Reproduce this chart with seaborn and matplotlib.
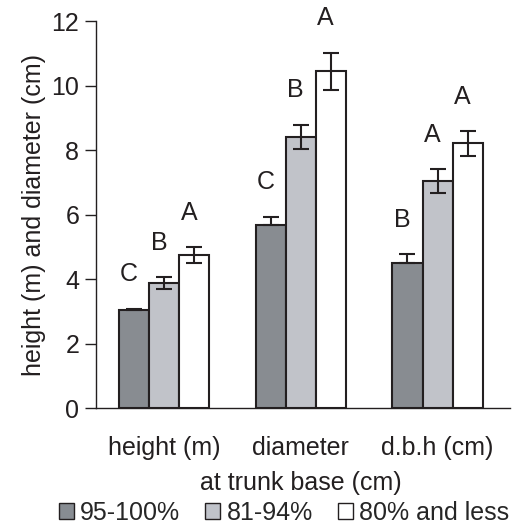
import pandas as pd
import matplotlib.pyplot as plt
import seaborn as sns
from matplotlib.patches import Patch

# Data
categories = ['height (m)', 'diameter\nat trunk base (cm)', 'd.b.h (cm)']
groups = ['95-100%', '81-94%', '80% and less']
means_95 = [3.04, 5.67, 4.51]
means_81 = [3.88, 8.41, 7.04]
means_80 = [4.74, 10.45, 8.21]
err_95 = [0.03, 0.26, 0.26]
err_81 = [0.18, 0.37, 0.37]
err_80 = [0.25, 0.57, 0.38]
letters_95 = ['C', 'C', 'B']
letters_81 = ['B', 'B', 'A']
letters_80 = ['A', 'A', 'A']

colors = ['#878c92', '#c0c3ca', '#ffffff']
edge = '#231f20'

df = pd.DataFrame({
    'category': categories * 3,
    'group': [g for g in groups for _ in categories],
    'value': means_95 + means_81 + means_80,
})
errs = [err_95, err_81, err_80]
letters = [letters_95, letters_81, letters_80]

sns.set_style('white')
plt.rcParams['font.family'] = ['Liberation Sans', 'DejaVu Sans']

fig = plt.figure(figsize=(5.12, 5.29), dpi=100)
ax = fig.add_axes([0.1875, 0.2287, 0.8085, 0.7313])

sns.barplot(data=df, x='category', y='value', hue='group', order=categories,
            hue_order=groups, palette=colors, width=0.66, edgecolor=edge,
            linewidth=1.5, errorbar=None, legend=False, ax=ax)

# error bars and letters (dark series: upper half only, as in the original)
for i, (container, e, lab) in enumerate(zip(ax.containers, errs, letters)):
    for bar, err, txt in zip(container, e, lab):
        xc = bar.get_x() + bar.get_width() / 2
        h = bar.get_height()
        yerr = [[0], [err]] if i == 0 else err
        ax.errorbar(xc, h, yerr=yerr, fmt='none', ecolor=edge, elinewidth=1.5,
                    capsize=6, capthick=1.5)
        ax.text(xc - 0.04, h + err + 0.7, txt, ha='center', va='bottom',
                fontsize=18, color=edge)

ax.set_xlim(-0.5, 2.53)
ax.set_ylim(0, 12)
ax.set_yticks(range(0, 13, 2))
ax.set_ylabel('height (m) and diameter (cm)', fontsize=18, color=edge, labelpad=4)
ax.set_xlabel('')

# category labels: first line as tick label, second line as a separate text
first_lines = [c.split('\n')[0] for c in categories]
ax.set_xticks([0, 1, 2])
ax.set_xticklabels(first_lines, fontsize=18, color=edge)
for x, c in enumerate(categories):
    for k, extra in enumerate(c.split('\n')[1:], start=1):
        ax.annotate(extra, xy=(x, 0), xycoords=('data', 'axes fraction'),
                    xytext=(0, -30 - 24 * k), textcoords='offset points',
                    ha='center', va='center', fontsize=18, color=edge)
ax.set_xticks([-0.5, 0.5, 1.5, 2.5], minor=True)
ax.tick_params(axis='x', which='major', length=0, pad=20)
ax.tick_params(axis='x', which='minor', length=8, width=1, color=edge, direction='out')
ax.tick_params(axis='y', length=8, width=1, color=edge, direction='out',
               labelsize=18, labelcolor=edge, left=True, pad=4)
for s in ['top', 'right']:
    ax.spines[s].set_visible(False)
for s in ['left', 'bottom']:
    ax.spines[s].set_color(edge)
    ax.spines[s].set_linewidth(1)

handles = [Patch(facecolor=c, edgecolor=edge, linewidth=1) for c in colors]
fig.legend(handles, groups, loc='lower center', bbox_to_anchor=(0.555, -0.035),
           ncol=3, frameon=False, fontsize=18, handlelength=0.6,
           handleheight=0.6, handletextpad=0.25, columnspacing=1.0)

fig.savefig('out.png', dpi=100)
